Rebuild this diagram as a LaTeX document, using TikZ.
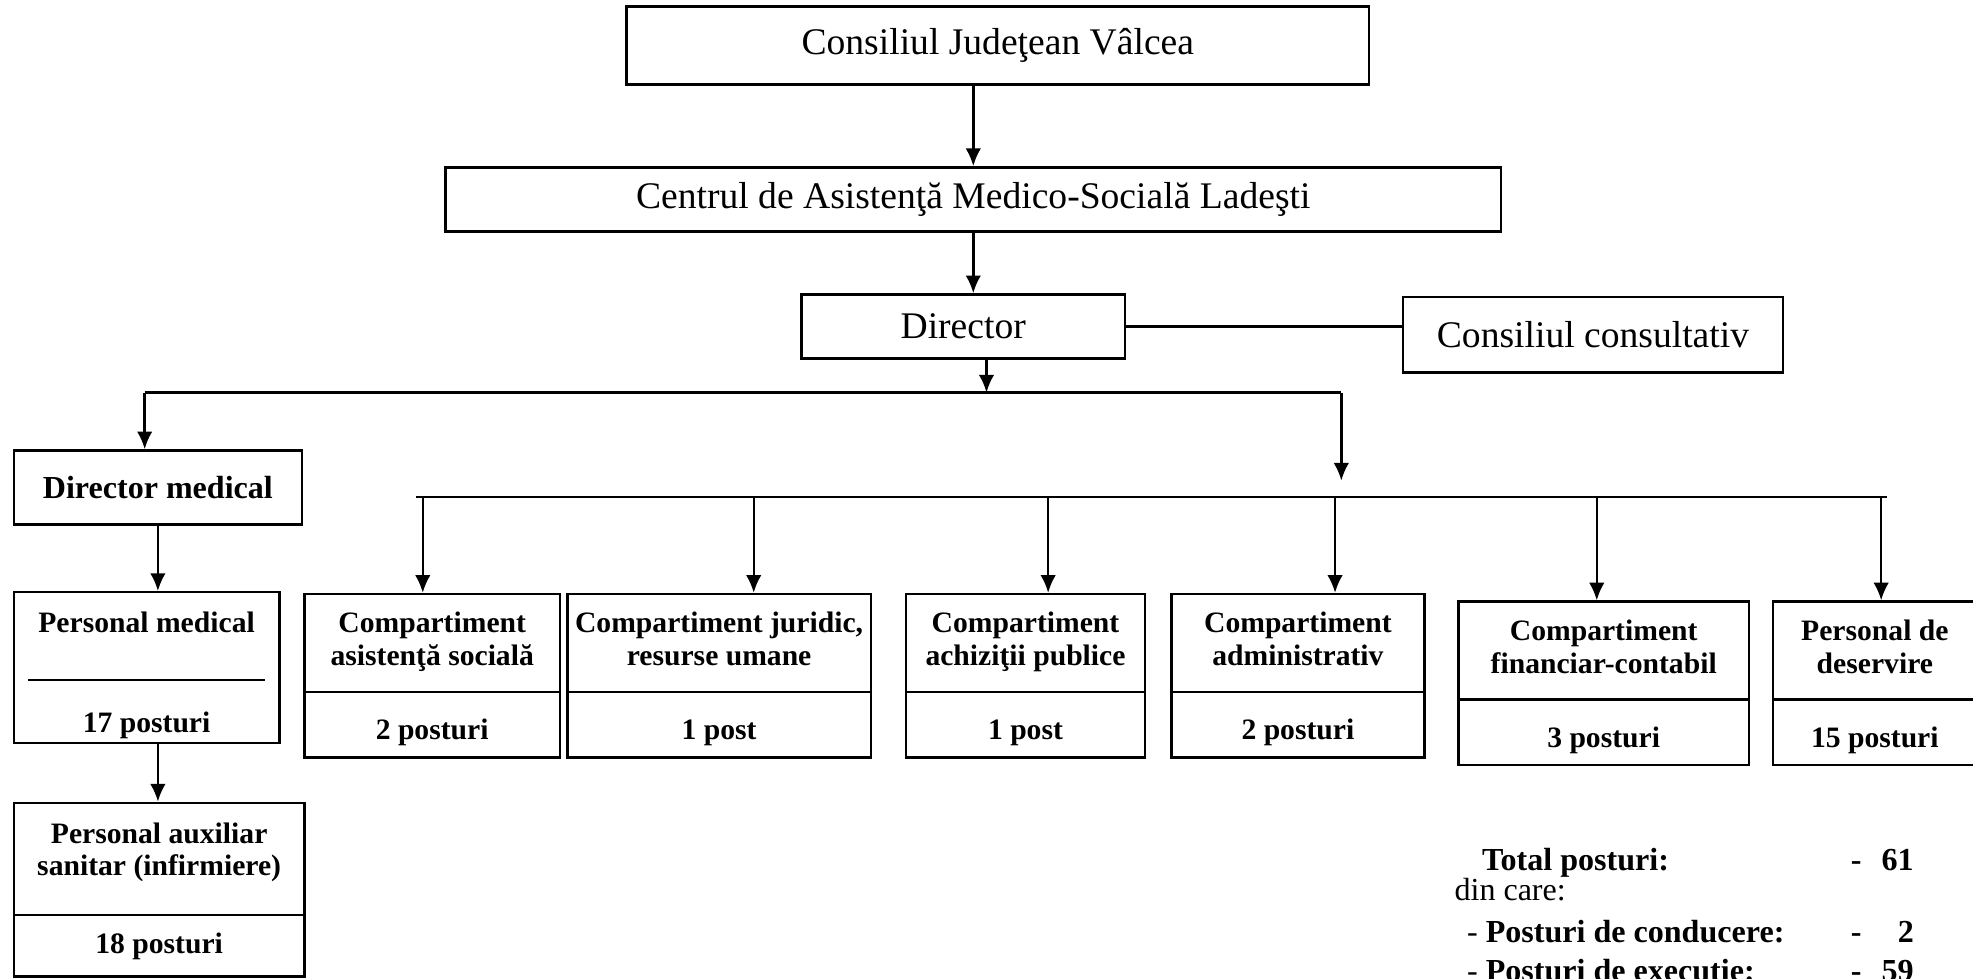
\documentclass[tikz,border=0pt]{standalone}
\usepackage{fontspec}
\setmainfont{Liberation Serif}
\usepackage{array}
\usepackage{tikz}
\usetikzlibrary{arrows.meta,positioning}
\newcolumntype{C}[1]{>{\centering\arraybackslash}p{#1}}
\setlength{\arrayrulewidth}{1.1pt}

\begin{document}
\begin{tikzpicture}[
    auto,
    node distance=2cm,
    >={Latex[length=8pt,width=7pt]},
    line width=1.1pt,
    head/.style={
		rectangle,
		draw=black,
		inner sep=0pt,
		text centered,
		font=\fontsize{17}{20}\selectfont
	},
    unit/.style={
		rectangle,
		draw=black,
		inner sep=0pt,
		text centered,
		font=\bfseries\fontsize{13.4}{14.8}\selectfont
	},
    total/.style={
		inner sep=0pt,
		font=\bfseries\fontsize{14.5}{17}\selectfont
	}
  ]
  \useasboundingbox (-15.86,-14.84) rectangle (15.50,0.72);

  % top of the chart
  \node [head, minimum width=11.8cm, minimum height=1.24cm] (judet) {Consiliul Judeţean Vâlcea};

  \node [head, below of=judet, node distance=2.45cm, xshift=-0.39cm,
         minimum width=16.78cm, minimum height=1.02cm] (centru)
 {Centrul de Asistenţă Medico-Socială Ladeşti};

  \node [head, below of=centru, node distance=2.02cm, xshift=-0.16cm,
         minimum width=5.14cm, minimum height=1.02cm] (director) {Director};

  \node [head, right of=director, node distance=10.01cm, yshift=-0.13cm,
         minimum width=6.04cm, minimum height=1.2cm] (consultativ) {Consiliul consultativ};

  % medical branch
  \node [unit, below of=director, node distance=2.56cm, xshift=-12.8cm,
         font=\bfseries\fontsize{14.5}{17}\selectfont,
         minimum width=4.58cm, minimum height=1.18cm] (dirmed) {Director medical};

  \node [unit, below of=dirmed, node distance=2.86cm, xshift=-0.18cm, minimum width=4.22cm] (persmed)
 {%
 \begin{tabular}{@{}C{3.78cm}@{}}
  \rule{0pt}{18.2pt}Personal medical\\[16.6pt]
  \hline
  \rule[-4pt]{0pt}{27.3pt}17 posturi
 \end{tabular}
 };

  \node [unit, below of=persmed, node distance=3.53cm, xshift=0.2cm] (auxiliar)
 {%
 \begin{tabular}{@{}C{4.62cm}@{}}
  \rule{0pt}{18.2pt}Personal auxiliar\\
  sanitar (infirmiere)\\[12.6pt]
  \hline
  \rule[-10.2pt]{0pt}{27.3pt}18 posturi
 \end{tabular}
 };

  % compartments
  \node [unit, right of=persmed, node distance=4.54cm, yshift=-0.13cm] (asist)
 {%
 \begin{tabular}{@{}C{4.06cm}@{}}
  \rule{0pt}{17.6pt}Compartiment\\
  asistenţă socială\\[6.9pt]
  \hline
  \rule[-8pt]{0pt}{29pt}2 posturi
 \end{tabular}
 };

  \node [unit, right of=asist, node distance=4.56cm] (juridic)
 {%
 \begin{tabular}{@{}C{4.82cm}@{}}
  \rule{0pt}{17.6pt}Compartiment juridic,\\
  resurse umane\\[6.9pt]
  \hline
  \rule[-8pt]{0pt}{29pt}1 post
 \end{tabular}
 };

  \node [unit, right of=juridic, node distance=4.87cm] (achiz)
 {%
 \begin{tabular}{@{}C{3.80cm}@{}}
  \rule{0pt}{17.6pt}Compartiment\\
  achiziţii publice\\[6.9pt]
  \hline
  \rule[-8pt]{0pt}{29pt}1 post
 \end{tabular}
 };

  \node [unit, right of=achiz, node distance=4.33cm] (admin)
 {%
 \begin{tabular}{@{}C{4.02cm}@{}}
  \rule{0pt}{17.6pt}Compartiment\\
  administrativ\\[6.9pt]
  \hline
  \rule[-8pt]{0pt}{29pt}2 posturi
 \end{tabular}
 };

  \node [unit, right of=admin, node distance=4.86cm, yshift=-0.12cm] (finan)
 {%
 \begin{tabular}{@{}C{4.62cm}@{}}
  \rule{0pt}{17.6pt}Compartiment\\
  financiar-contabil\\[6.9pt]
  \hline
  \rule[-8pt]{0pt}{29pt}3 posturi
 \end{tabular}
 };

  \node [unit, right of=finan, node distance=4.31cm] (deserv)
 {%
 \begin{tabular}{@{}C{3.24cm}@{}}
  \rule{0pt}{17.6pt}Personal de\\
  deservire\\[6.9pt]
  \hline
  \rule[-8pt]{0pt}{29pt}15 posturi
 \end{tabular}
 };

  % summary of posts
  \node [total, anchor=base west] (summary) at (7.24,-13.12)
 {%
 \begin{tabular}[t]{@{}p{6.3cm}@{}l@{\hspace{0.32cm}}r@{}}
  \hspace*{0.44cm}Total posturi: & - & 61\\[-3.6pt]
  \textmd{din care:} & & \\[2.2pt]
  \hspace*{0.2cm}\textmd{-} Posturi de conducere: & - & 2\\[0.4pt]
  \hspace*{0.2cm}\textmd{-} Posturi de execuţie: & - & 59
 \end{tabular}
 };

  \coordinate (busL) at (-13.56,-5.52);
  \coordinate (busR) at (5.46,-5.52);
  \coordinate (busTip) at (5.46,-6.92);
  \coordinate (bus2L) at (-9.24,-7.18);
  \coordinate (bus2R) at (14.14,-7.18);

  \draw [->] (judet.south -| centru.north) -- (centru.north);
  \draw [->] (centru.south) -- (centru.south |- director.north);
  \draw (director.east) -- (director.east -| consultativ.west);
  \draw [->] ([xshift=0.37cm]director.south) -- ([xshift=0.37cm]director.south |- busL);
  \draw (busL) -- (busR);
  \draw [->] (busL) -- (busL |- dirmed.north);
  \draw [->] (busR) -- (busTip);
  \draw (bus2L) -- (bus2R);

  \draw [->] ([xshift=-0.15cm]asist.north |- bus2L) -- ([xshift=-0.15cm]asist.north);
  \draw [->] ([xshift=0.55cm]juridic.north |- bus2L) -- ([xshift=0.55cm]juridic.north);
  \draw [->] ([xshift=0.36cm]achiz.north |- bus2L) -- ([xshift=0.36cm]achiz.north);
  \draw [->] ([xshift=0.59cm]admin.north |- bus2L) -- ([xshift=0.59cm]admin.north);
  \draw [->] ([xshift=-0.11cm]finan.north |- bus2L) -- ([xshift=-0.11cm]finan.north);
  \draw [->] ([xshift=0.10cm]deserv.north |- bus2L) -- ([xshift=0.10cm]deserv.north);

  \draw [->] (dirmed.south) -- (dirmed.south |- persmed.north);
  \draw [->] (dirmed.south |- persmed.south) -- (dirmed.south |- auxiliar.north);

\end{tikzpicture}
\end{document}
